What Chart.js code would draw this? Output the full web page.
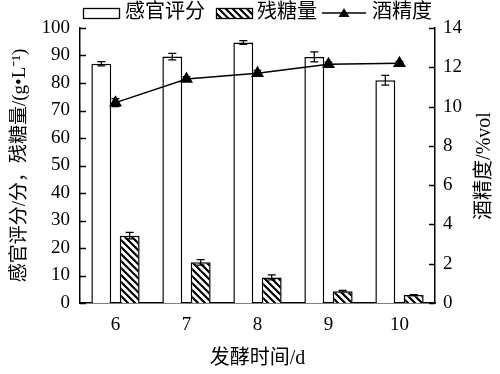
<!DOCTYPE html>
<html>
<head>
<meta charset="utf-8">
<script src="https://cdn.jsdelivr.net/npm/chart.js@4.4.1/dist/chart.umd.min.js"></script>
<style>
  html, body { margin: 0; padding: 0; background: #fff; }
  #chart-fermentation { display: block; }
</style>
</head>
<body>
<canvas id="chart-fermentation" width="500" height="374"></canvas>
<script>
const days = ['6', '7', '8', '9', '10'];
const sensoryScore = [87, 89.6, 94.7, 89.5, 81];
const sensoryError = [0.8, 1.2, 0.7, 1.8, 1.8];
const residualSugar = [24.5, 14.8, 9.3, 4.3, 2.9];
const residualSugarError = [1.2, 1.0, 0.9, 0.3, 0.2];
const alcohol = [10.2, 11.4, 11.7, 12.15, 12.2];
const alcoholError = [0.2, 0.12, 0.15, 0.12, 0.1];

const leftTicks = [0, 10, 20, 30, 40, 50, 60, 70, 80, 90, 100];
const rightTicks = [0, 2, 4, 6, 8, 10, 12, 14];

const fontFamily = "'Liberation Serif', 'Noto Sans CJK SC', serif";

function makeHatch() {
    /*
     * diagonal stripes, top-left to bottom-right
     */
    const size = 7;
    const c = document.createElement('canvas');
    c.width = size;
    c.height = size;
    const g = c.getContext('2d');
    g.fillStyle = '#fff';
    g.fillRect(0, 0, size, size);
    g.strokeStyle = '#000';
    g.lineWidth = 2.2;
    g.beginPath();
    g.moveTo(-1, -1); g.lineTo(size + 1, size + 1);
    g.moveTo(-size - 1, -1); g.lineTo(1, size + 1);
    g.moveTo(size - 1, -1); g.lineTo(2 * size + 1, size + 1);
    g.stroke();
    return g.createPattern(c, 'repeat');
}

const canvas = document.getElementById('chart-fermentation');
const hatch = makeHatch();

// error bars, inner tick marks, right title and legend
const extrasPlugin = {
    id: 'extras',
    afterDatasetsDraw(chart) {
        const ctx = chart.ctx;
        ctx.save();
        ctx.strokeStyle = '#000';
        ctx.lineWidth = 1.2;
        chart.data.datasets.forEach((ds, i) => {
            if (!ds.errors) return;
            const meta = chart.getDatasetMeta(i);
            const yScale = chart.scales[ds.yAxisID];
            meta.data.forEach((el, j) => {
                const v = ds.data[j];
                const e = ds.errors[j];
                const yTop = yScale.getPixelForValue(v + e);
                const yBot = yScale.getPixelForValue(v - e);
                const x = el.x;
                ctx.beginPath();
                ctx.moveTo(x, yTop); ctx.lineTo(x, yBot);
                ctx.moveTo(x - 4, yTop); ctx.lineTo(x + 4, yTop);
                ctx.moveTo(x - 4, yBot); ctx.lineTo(x + 4, yBot);
                ctx.stroke();
            });
        });
        ctx.restore();
    },
    afterDraw(chart) {
        const ctx = chart.ctx;
        const area = chart.chartArea;
        const y = chart.scales.y;
        const y1 = chart.scales.y1;
        ctx.save();
        ctx.strokeStyle = '#000';
        ctx.lineWidth = 1.5;
        ctx.beginPath();
        leftTicks.forEach(t => {
            const p = Math.round(y.getPixelForValue(t)) + 0.5;
            ctx.moveTo(area.left, p); ctx.lineTo(area.left + 6, p);
        });
        rightTicks.forEach(t => {
            const p = Math.round(y1.getPixelForValue(t)) + 0.5;
            ctx.moveTo(area.right, p); ctx.lineTo(area.right - 6, p);
        });
        ctx.stroke();

        // right axis title, reads bottom to top
        ctx.fillStyle = '#000';
        ctx.font = '20px ' + fontFamily;
        ctx.textAlign = 'center';
        ctx.textBaseline = 'middle';
        ctx.translate(485, 166);
        ctx.rotate(-Math.PI / 2);
        ctx.fillText('酒精度/%vol', 0, 0);
        ctx.restore();

        // legend
        const byId = {};
        chart.data.datasets.forEach(ds => { byId[ds.key] = ds.label; });
        ctx.save();
        ctx.font = '20px ' + fontFamily;
        ctx.textBaseline = 'middle';
        ctx.textAlign = 'left';
        ctx.fillStyle = '#000';
        ctx.strokeStyle = '#000';
        ctx.lineWidth = 1.3;
        const ly = 13;
        ctx.strokeRect(83.5, 8.5, 36, 10);
        ctx.fillText(byId.sensory, 125, ly);
        ctx.fillStyle = hatch;
        ctx.fillRect(216, 8.5, 36, 10);
        ctx.strokeRect(216.5, 8.5, 36, 10);
        ctx.fillStyle = '#000';
        ctx.fillText(byId.sugar, 257, ly);
        ctx.beginPath();
        ctx.moveTo(322, ly); ctx.lineTo(366, ly);
        ctx.stroke();
        ctx.beginPath();
        ctx.moveTo(344, ly - 5); ctx.lineTo(349.5, ly + 4); ctx.lineTo(338.5, ly + 4);
        ctx.closePath();
        ctx.fill();
        ctx.fillText(byId.alcohol, 372, ly);
        ctx.restore();
    }
};

new Chart(canvas, {
    type: 'bar',
    data: {
        labels: days,
        datasets: [{
            key: 'alcohol',
            type: 'line',
            label: '酒精度',
            data: alcohol,
            errors: alcoholError,
            yAxisID: 'y1',
            borderColor: '#000',
            backgroundColor: '#000',
            borderWidth: 1.5,
            pointStyle: 'triangle',
            pointRadius: 6,
            pointBackgroundColor: '#000',
            pointBorderColor: '#000',
            order: 0
        }, {
            key: 'sensory',
            label: '感官评分',
            data: sensoryScore,
            errors: sensoryError,
            yAxisID: 'y',
            backgroundColor: '#fff',
            borderColor: '#000',
            borderWidth: 1.5,
            categoryPercentage: 0.8,
            barPercentage: 0.7,
            order: 1
        }, {
            key: 'sugar',
            label: '残糖量',
            data: residualSugar,
            errors: residualSugarError,
            yAxisID: 'y',
            backgroundColor: hatch,
            borderColor: '#000',
            borderWidth: 1.5,
            categoryPercentage: 0.8,
            barPercentage: 0.7,
            order: 2
        }]
    },
    options: {
        responsive: false,
        animation: false,
        devicePixelRatio: 1,
        layout: { padding: { top: 28, left: 0, right: 0, bottom: 0 } },
        plugins: {
            legend: { display: false },
            tooltip: { enabled: false }
        },
        scales: {
            x: {
                grid: { display: false, drawTicks: false },
                border: { display: true, color: '#000', width: 1.5 },
                ticks: { color: '#000', padding: 11, font: { family: fontFamily, size: 19 } },
                title: {
                    display: true,
                    text: '发酵时间/d',
                    color: '#000',
                    font: { family: fontFamily, size: 20 },
                    padding: { top: 0, bottom: 3 }
                },
                afterFit(scale) { scale.height = 71; }
            },
            y: {
                position: 'left',
                min: 0,
                max: 100,
                afterBuildTicks(scale) { scale.ticks = leftTicks.map(v => ({ value: v })); },
                grid: { display: false, drawTicks: false },
                border: { display: true, color: '#000', width: 1.5 },
                ticks: { color: '#000', padding: 10, font: { family: fontFamily, size: 19 } },
                title: {
                    display: true,
                    text: '感官评分/分，残糖量/(g•L⁻¹)',
                    color: '#000',
                    font: { family: fontFamily, size: 19 },
                    padding: { top: 9, bottom: 0 }
                },
                afterFit(scale) { scale.width = 80; }
            },
            y1: {
                position: 'right',
                min: 0,
                max: 14,
                afterBuildTicks(scale) { scale.ticks = rightTicks.map(v => ({ value: v })); },
                grid: { display: false, drawTicks: false },
                border: { display: true, color: '#000', width: 1.5 },
                ticks: { color: '#000', padding: 8, font: { family: fontFamily, size: 19 } },
                afterFit(scale) { scale.width = 65; }
            }
        }
    },
    plugins: [extrasPlugin]
});
</script>
</body>
</html>
